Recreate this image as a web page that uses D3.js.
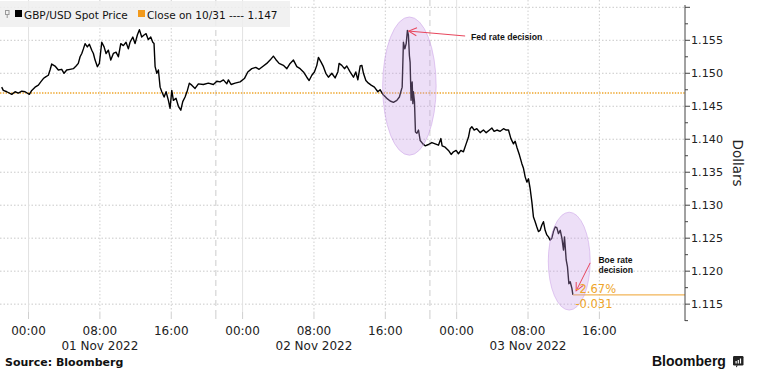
<!DOCTYPE html>
<html><head><meta charset="utf-8">
<script src="https://cdn.jsdelivr.net/npm/d3@7"></script>
<style>
html,body{margin:0;padding:0;background:#fff;}
svg{display:block;font-family:"DejaVu Sans",Verdana,sans-serif;}
</style></head><body>
<svg id="chart" width="762" height="378"></svg>
<script>
// ---- data (hours from 01 Nov 2022 00:00 UTC, GBP/USD spot) ----
const hoursFromNov1 = [-3.01,-2.83,-2.44,-1.88,-1.51,-1.14,-0.76,-0.39,0.09,0.36,0.73,1.10,1.37,1.66,1.96,2.22,2.41,2.60,2.97,3.34,3.72,3.98,4.28,4.65,5.02,5.33,5.58,5.78,5.97,6.15,6.34,6.59,6.82,7.09,7.27,7.46,7.72,7.94,8.21,8.47,8.69,8.95,9.22,9.51,9.81,10.07,10.34,10.63,10.93,11.19,11.38,11.69,11.94,12.20,12.43,12.69,12.95,13.18,13.43,13.70,13.93,14.07,14.19,14.38,14.56,14.75,14.94,15.20,15.42,15.68,15.87,16.06,16.24,16.54,16.80,17.07,17.29,17.55,17.81,18.03,18.30,18.67,
19.04,19.60,20.16,20.72,21.11,21.48,21.85,22.23,22.41,22.71,23.16,23.72,24.20,24.58,25.03,25.48,25.85,26.22,26.71,27.08,27.45,27.72,28.09,28.57,28.96,29.33,29.70,30.08,30.45,30.82,31.20,31.46,31.76,32.05,32.32,32.50,32.80,33.06,33.33,33.62,34.00,34.37,34.68,34.82,35.12,35.42,35.68,36.05,36.43,36.69,36.92,37.18,37.37,37.55,37.82,38.11,38.41,38.78,39.16,39.42,
39.79,40.17,40.54,40.91,41.29,41.58,41.74,41.89,42.03,42.19,42.34,42.48,42.59,42.70,42.78,42.89,43.01,43.09,43.15,43.27,43.38,43.54,43.72,43.91,44.21,44.47,44.84,45.22,45.59,45.96,46.23,46.37,46.71,47.08,47.38,47.64,47.94,48.20,48.47,48.76,49.06,49.32,49.51,49.70,49.96,50.26,50.63,51.00,51.31,51.68,51.95,52.20,52.51,52.88,53.25,53.55,53.81,54.08,54.37,54.56,54.75,55.04,55.31,55.49,55.68,55.87,56.05,56.24,56.43,
56.61,56.80,56.99,57.17,57.36,57.55,57.73,57.92,58.11,58.29,58.48,58.67,58.85,59.04,59.23,59.41,59.61,59.80,59.98,60.09,60.28,60.42,60.58,60.73,60.92,61.03];
const spotPrice = [1.1479,1.1474,1.1472,1.1468,1.1472,1.1470,1.1473,1.1472,1.1468,1.1474,1.1479,1.1482,1.1487,1.1492,1.1495,1.1497,1.1505,1.1514,1.1511,1.1505,1.1506,1.1500,1.1505,1.1506,1.1507,1.1511,1.1515,1.1525,1.1530,1.1537,1.1545,1.1540,1.1544,1.1535,1.1530,1.1520,1.1510,1.1515,1.1547,1.1540,1.1530,1.1535,1.1520,1.1530,1.1532,1.1525,1.1545,1.1542,1.1547,1.1537,1.1547,1.1555,1.1545,1.1558,1.1566,1.1555,1.1558,1.1560,1.1551,1.1555,1.1547,1.1545,1.1510,1.1500,1.1505,1.1479,1.1472,1.1464,1.1472,1.1459,1.1447,1.1474,1.1459,1.1462,1.1450,1.1444,1.1457,1.1464,1.1474,1.1485,1.1482,1.1477,
1.1484,1.1483,1.1485,1.1483,1.1488,1.1487,1.1490,1.1484,1.1490,1.1483,1.1485,1.1487,1.1492,1.1502,1.1507,1.1509,1.1506,1.1510,1.1515,1.1520,1.1526,1.1521,1.1515,1.1512,1.1507,1.1515,1.1520,1.1510,1.1507,1.1502,1.1494,1.1489,1.1497,1.1502,1.1512,1.1524,1.1517,1.1510,1.1500,1.1494,1.1500,1.1493,1.1502,1.1515,1.1512,1.1507,1.1511,1.1502,1.1494,1.1502,1.1490,1.1511,1.1512,1.1500,1.1489,1.1485,1.1482,1.1479,1.1472,1.1475,
1.1467,1.1462,1.1458,1.1456,1.1459,1.1464,1.1472,1.1479,1.1547,1.1537,1.1545,1.1565,1.1558,1.1527,1.1517,1.1459,1.1487,1.1454,1.1472,1.1457,1.1411,1.1409,1.1414,1.1398,1.1393,1.1390,1.1392,1.1395,1.1393,1.1391,1.1401,1.1390,1.1388,1.1383,1.1377,1.1381,1.1383,1.1378,1.1383,1.1381,1.1393,1.1403,1.1416,1.1419,1.1414,1.1416,1.1410,1.1414,1.1410,1.1414,1.1417,1.1412,1.1414,1.1412,1.1416,1.1414,1.1414,1.1401,1.1393,1.1397,1.1388,1.1376,1.1363,1.1356,1.1343,1.1335,1.1340,1.1325,1.1305,
1.1282,1.1275,1.1267,1.1260,1.1262,1.1270,1.1275,1.1262,1.1255,1.1252,1.1247,1.1250,1.1260,1.1267,1.1266,1.1257,1.1262,1.1250,1.1232,1.1252,1.1217,1.1207,1.1181,1.1184,1.1174,1.1164];

const closeValue = 1.147;
const seriesLabel = "GBP/USD Spot Price";
const closeLabel = "Close on 10/31 ---- 1.147";
const changeLabels = ["-2.67%", "-0.031"];
const yTickValues = [1.115,1.120,1.125,1.130,1.135,1.140,1.145,1.150,1.155,1.160];
const yMinorValues = [1.1125,1.1175,1.1225,1.1275,1.1325,1.1375,1.1425,1.1475,1.1525,1.1575];
const xTickHours = [0,8,16,24,32,40,48,56,64];
const dateLabelHours = [8,32,56];
const sessionBreakHours = [21,45];
const ellipseCenterHours = [42.7, 60.62];
const ellipseCenterPrice = [1.14806, 1.12152];
const ellipseHalfHours = [3.0, 2.35];
const ellipseHalfPrice = [0.01048, 0.00742];

// ---- setup ----
const base = Date.UTC(2022, 10, 1);
const T = h => new Date(base + h * 3600000);
const svg = d3.select("#chart");
const x = d3.scaleUtc().domain([T(-3.2), T(73.6)]).range([0, 685]);
const y = d3.scaleLinear().domain([1.1129, 1.1602]).range([318, 6]);
const data = hoursFromNov1.map((h, i) => ({t: T(h), v: spotPrice[i]})).filter(d => d.v !== undefined);

// horizontal grid
svg.append("g").selectAll("line").data(yTickValues).join("line")
  .attr("x1", 0).attr("x2", 685).attr("y1", d => y(d)).attr("y2", d => y(d))
  .attr("stroke", "#c9c9c9").attr("stroke-dasharray", "1.5,2");

// vertical grid
const vg = svg.append("g");
xTickHours.forEach(h => {
  const xx = x(T(h));
  const midnight = h % 24 === 0;
  vg.append("line").attr("x1", xx).attr("x2", xx).attr("y1", 0).attr("y2", 312)
    .attr("stroke", midnight ? "#e2e2e2" : "#cfcfcf")
    .attr("stroke-dasharray", midnight ? null : "1.5,2");
});
sessionBreakHours.forEach(h => {
  const xx = x(T(h));
  vg.append("line").attr("x1", xx).attr("x2", xx).attr("y1", 0).attr("y2", 312)
    .attr("stroke", "#cccccc").attr("stroke-dasharray", "6,4");
});

// legend background
svg.append("rect").attr("x", 0).attr("y", 1).attr("width", 290).attr("height", 26)
  .attr("fill", "#eeeeee").attr("opacity", 0.85);

// close line
svg.append("line").attr("x1", 0).attr("x2", 685)
  .attr("y1", y(closeValue)).attr("y2", y(closeValue))
  .attr("stroke", "#eea52a").attr("stroke-width", 1.4).attr("stroke-dasharray", "1.4,1.4");

// series line
svg.append("path").datum(data)
  .attr("fill", "none").attr("stroke", "#000").attr("stroke-width", 1.4)
  .attr("stroke-linejoin", "round")
  .attr("d", d3.line().x(d => x(d.t)).y(d => y(d.v)));

// last value line
const last = data[data.length - 1];
svg.append("line").attr("x1", x(last.t)).attr("x2", 685)
  .attr("y1", y(last.v)).attr("y2", y(last.v))
  .attr("stroke", "#f2b558").attr("stroke-width", 1.2);

// ellipses
ellipseCenterHours.forEach((h, i) => {
  const cx = x(T(h)), cy = y(ellipseCenterPrice[i]);
  svg.append("ellipse").attr("cx", cx).attr("cy", cy)
    .attr("rx", x(T(h + ellipseHalfHours[i])) - cx)
    .attr("ry", y(ellipseCenterPrice[i] - ellipseHalfPrice[i]) - cy)
    .attr("fill", "rgba(200,155,230,0.32)")
    .attr("stroke", "rgba(195,150,228,0.6)").attr("stroke-width", 0.8);
});

// arrows
const defs = svg.append("defs");
defs.append("marker").attr("id", "arr").attr("viewBox", "-1 -5 10 10")
  .attr("refX", 0).attr("refY", 0).attr("markerWidth", 10).attr("markerHeight", 10)
  .attr("markerUnits", "userSpaceOnUse").attr("orient", "auto")
  .append("path").attr("d", "M8,-4 L0,0 L8,4").attr("fill", "none")
  .attr("stroke", "#e8465c").attr("stroke-width", 1);
function arrow(h1, v1, h2, v2) {
  svg.append("line").attr("x1", x(T(h1))).attr("y1", y(v1))
    .attr("x2", x(T(h2))).attr("y2", y(v2))
    .attr("stroke", "#e8465c").attr("stroke-width", 1)
    .attr("marker-start", "url(#arr)");
}
arrow(42.62, 1.1564, 48.95, 1.15565);
arrow(61.40, 1.11702, 62.97, 1.12126);

// annotation texts
svg.append("text").attr("x", x(T(49.6))).attr("y", y(1.15505))
  .attr("font-family", "Liberation Sans, Arial, sans-serif").attr("font-weight", "bold")
  .attr("font-size", 8.7).attr("fill", "#111").text("Fed rate decision");
const boe = svg.append("text").attr("x", x(T(63.9))).attr("y", y(1.1212))
  .attr("font-family", "Liberation Sans, Arial, sans-serif").attr("font-weight", "bold")
  .attr("font-size", 8.5).attr("fill", "#111");
boe.append("tspan").attr("x", x(T(63.9))).text("Boe rate");
boe.append("tspan").attr("x", x(T(63.9))).attr("dy", 10).text("decision");

// change labels
svg.append("text").attr("x", x(last.t) + 2.5).attr("y", y(last.v) - 1.5)
  .attr("font-size", 11.5).attr("fill", "#eea52a").text(changeLabels[0]);
svg.append("text").attr("x", x(last.t) + 2.5).attr("y", y(last.v) + 13.5)
  .attr("font-size", 11.5).attr("fill", "#eea52a").text(changeLabels[1]);

// legend
svg.append("rect").attr("x", 5.5).attr("y", 10.5).attr("width", 3.5).attr("height", 4)
  .attr("fill", "none").attr("stroke", "#999").attr("stroke-width", 1);
svg.append("line").attr("x1", 7.2).attr("x2", 7.2).attr("y1", 14.5).attr("y2", 18)
  .attr("stroke", "#999");
svg.append("rect").attr("x", 15).attr("y", 10).attr("width", 7).attr("height", 7).attr("fill", "#000");
svg.append("text").attr("x", 24).attr("y", 18.5).attr("font-size", 10.5).attr("fill", "#111").text(seriesLabel);
svg.append("rect").attr("x", 138).attr("y", 10).attr("width", 7).attr("height", 7).attr("fill", "#f29a1c");
svg.append("text").attr("x", 147).attr("y", 18.5).attr("font-size", 10.5).attr("fill", "#111").text(closeLabel);

// x axis ticks & labels
const xa = svg.append("g");
xTickHours.concat(sessionBreakHours).forEach(h => {
  xa.append("line").attr("x1", x(T(h))).attr("x2", x(T(h))).attr("y1", 312).attr("y2", 319)
    .attr("stroke", "#cfcfcf");
});
const fmtH = d3.utcFormat("%H:%M"), fmtD = d3.utcFormat("%d %b %Y");
xa.selectAll("text.h").data(xTickHours).join("text").attr("class", "h")
  .attr("x", h => x(T(h))).attr("y", 335).attr("text-anchor", "middle")
  .attr("font-size", 12).attr("fill", "#222").text(h => fmtH(T(h)));
xa.selectAll("text.d").data(dateLabelHours).join("text").attr("class", "d")
  .attr("x", h => x(T(h))).attr("y", 350).attr("text-anchor", "middle")
  .attr("font-size", 12).attr("fill", "#222").text(h => fmtD(T(h)));

// y axis (right)
const ya = svg.append("g").attr("transform", "translate(685,0)");
ya.append("line").attr("x1", 0).attr("x2", 0).attr("y1", 5).attr("y2", 321)
  .attr("stroke", "#444").attr("stroke-width", 1);
ya.selectAll("line.maj").data(yTickValues).join("line").attr("class", "maj")
  .attr("x1", 0).attr("x2", 5).attr("y1", d => y(d)).attr("y2", d => y(d)).attr("stroke", "#444");
ya.selectAll("line.min").data(yMinorValues).join("line").attr("class", "min")
  .attr("x1", 0).attr("x2", 3).attr("y1", d => y(d)).attr("y2", d => y(d)).attr("stroke", "#444");
ya.selectAll("text").data(yTickValues.filter(v => v < 1.158)).join("text")
  .attr("x", 6).attr("y", d => y(d) + 4).attr("font-size", 11.2).attr("fill", "#222")
  .text(d => d3.format(".3f")(d));
svg.append("text").attr("transform", `translate(733,163) rotate(90)`)
  .attr("text-anchor", "middle").attr("font-size", 13.5).attr("fill", "#222").text("Dollars");

// footer
svg.append("text").attr("x", 5).attr("y", 366).attr("font-size", 11).attr("font-weight", "bold")
  .attr("fill", "#111").text("Source: Bloomberg");
svg.append("text").attr("x", 652).attr("y", 366)
  .attr("font-family", "Liberation Sans, Arial, sans-serif").attr("font-size", 14).attr("font-weight", "bold")
  .attr("fill", "#111").text("Bloomberg");
const logo = svg.append("g").attr("transform", "translate(733,356)");
logo.append("rect").attr("width", 10.5).attr("height", 9.5).attr("rx", 1.2).attr("fill", "#222");
logo.append("path").attr("d", "M3,9.5 L3,11.5 L5,9.5 Z").attr("fill", "#222");
[[2.5,5,1.2,2.5],[4.7,4,1.2,3.5],[6.9,2.5,1.2,5]].forEach(b =>
  logo.append("rect").attr("x", b[0]).attr("y", b[1]).attr("width", b[2]).attr("height", b[3]).attr("fill", "#fff"));
</script>
</body></html>
